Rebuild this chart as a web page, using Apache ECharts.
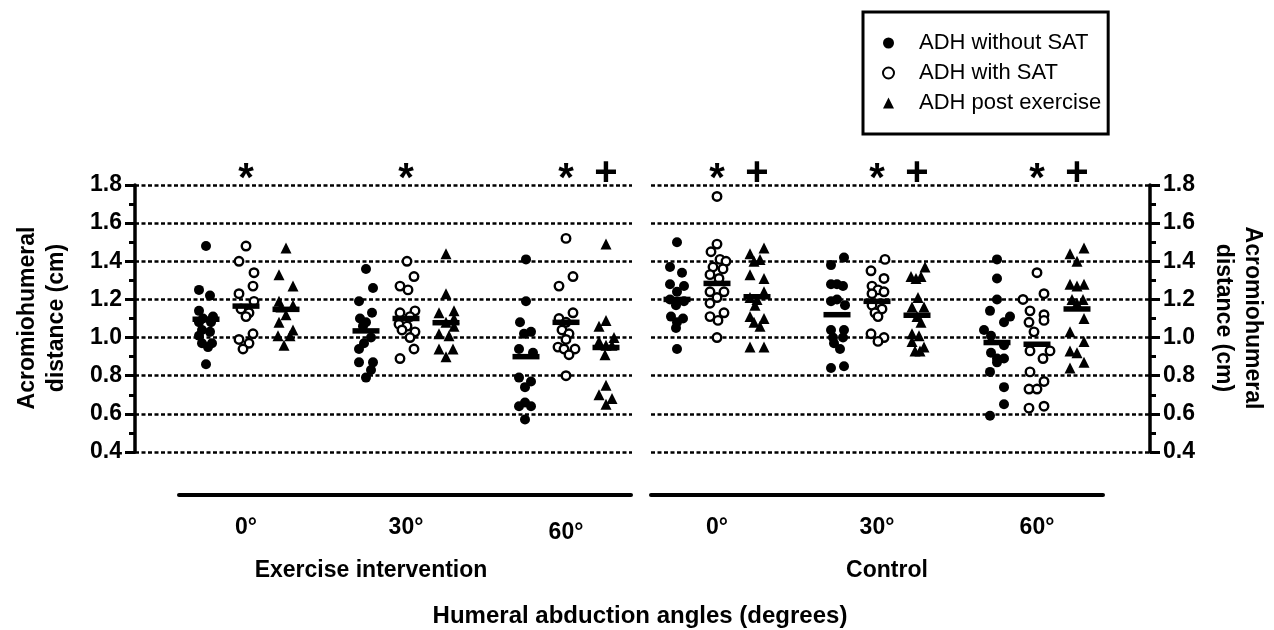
<!DOCTYPE html>
<html>
<head>
<meta charset="utf-8">
<title>Acromiohumeral distance</title>
<script src="https://cdn.jsdelivr.net/npm/echarts@6/dist/echarts.min.js"></script>
<style>
  html, body { margin: 0; padding: 0; background: #fff; }
  #chart { width: 1274px; height: 630px; }
</style>
</head>
<body>
<div id="chart"></div>
<script>
var angles = ["0°", "30°", "60°"];
var seriesNames = ["ADH without SAT", "ADH with SAT", "ADH post exercise"];
var panelNames = ["Exercise intervention", "Control"];

// each point: [horizontal jitter (px), AHD (cm)], one list per angle
var exWithout = [
  [[0,1.48],[-7,1.25],[4,1.22],[-7,1.14],[7,1.11],[-3,1.10],[-7,1.08],[5,1.08],[-4,1.04],[4,1.03],[-7,1.01],[-4,0.97],[6,0.97],[2,0.95],[0,0.86]],
  [[0,1.36],[7,1.26],[-7,1.19],[6,1.13],[-6,1.10],[0,1.08],[-3,1.06],[5,1.00],[-2,0.97],[-7,0.94],[-7,0.87],[7,0.87],[5,0.83],[0,0.79]],
  [[0,1.41],[0,1.19],[-6,1.08],[5,1.03],[-2,1.02],[-7,0.94],[7,0.92],[-7,0.79],[5,0.77],[-1,0.74],[-7,0.64],[5,0.64],[-1,0.66],[-1,0.57]]
];
var exWith = [
  [[0,1.48],[-7,1.40],[8,1.34],[7,1.27],[-7,1.23],[8,1.19],[-5,1.15],[3,1.13],[0,1.11],[7,1.02],[-7,0.99],[3,0.97],[-3,0.94]],
  [[1,1.40],[8,1.32],[-6,1.27],[2,1.25],[9,1.14],[-6,1.13],[4,1.11],[-7,1.07],[1,1.06],[9,1.03],[-4,1.04],[4,1.00],[8,0.94],[-6,0.89]],
  [[0,1.52],[7,1.32],[-7,1.27],[-7,1.10],[7,1.13],[0,1.08],[-4,1.04],[3,1.02],[0,0.99],[-8,0.95],[-2,0.94],[9,0.94],[3,0.91],[0,0.80]]
];
var exPost = [
  [[0,1.47],[-7,1.33],[7,1.27],[-7,1.19],[7,1.17],[-5,1.16],[0,1.12],[-7,1.08],[7,1.04],[-8,1.01],[4,1.01],[-2,0.96]],
  [[0,1.44],[0,1.23],[-7,1.13],[8,1.14],[8,1.10],[0,1.08],[-7,1.02],[3,1.01],[8,1.06],[-7,0.94],[7,0.94],[0,0.90]],
  [[0,1.49],[0,1.09],[-7,1.06],[-7,0.98],[8,1.00],[0,0.96],[6,0.96],[-1,0.91],[0,0.75],[-7,0.70],[6,0.68],[0,0.65]]
];
var ctWithout = [
  [[0,1.50],[-7,1.37],[5,1.34],[-7,1.28],[7,1.27],[0,1.24],[-7,1.20],[7,1.19],[-1,1.17],[-6,1.11],[6,1.10],[0,1.08],[-1,1.05],[0,0.94]],
  [[7,1.42],[-6,1.38],[-6,1.28],[6,1.27],[0,1.28],[0,1.20],[-6,1.19],[8,1.17],[-6,1.04],[7,1.04],[-4,1.00],[6,1.00],[-3,0.97],[3,0.94],[-6,0.84],[7,0.85]],
  [[0,1.41],[0,1.31],[0,1.20],[-7,1.14],[13,1.11],[7,1.08],[-13,1.04],[-6,1.01],[7,0.96],[-6,0.92],[0,0.89],[7,0.89],[0,0.87],[-7,0.82],[7,0.74],[7,0.65],[-7,0.59]]
];
var ctWith = [
  [[0,1.74],[0,1.49],[-6,1.45],[3,1.41],[9,1.40],[-4,1.37],[6,1.36],[-7,1.33],[2,1.31],[-7,1.24],[7,1.24],[0,1.21],[-7,1.18],[7,1.13],[-7,1.11],[1,1.09],[0,1.00]],
  [[8,1.41],[-6,1.35],[7,1.31],[-5,1.27],[1,1.25],[7,1.24],[-5,1.23],[-5,1.17],[5,1.15],[-2,1.13],[1,1.11],[-6,1.02],[7,1.00],[1,0.98]],
  [[0,1.34],[-14,1.20],[7,1.23],[-7,1.14],[7,1.12],[-8,1.08],[7,1.09],[-3,1.03],[-7,0.93],[13,0.93],[6,0.89],[-7,0.82],[7,0.77],[-8,0.73],[0,0.73],[-8,0.63],[7,0.64]]
];
var ctPost = [
  [[7,1.47],[-7,1.44],[3,1.41],[-3,1.40],[-7,1.33],[7,1.31],[7,1.24],[-7,1.21],[0,1.20],[-2,1.17],[-7,1.11],[7,1.10],[-3,1.08],[3,1.06],[-7,0.95],[7,0.95]],
  [[8,1.37],[-6,1.32],[4,1.32],[-1,1.31],[1,1.21],[-5,1.16],[7,1.16],[0,1.11],[4,1.08],[-5,1.02],[2,1.01],[-5,0.98],[7,0.95],[-2,0.93],[3,0.93]],
  [[7,1.47],[-7,1.44],[0,1.40],[-7,1.28],[7,1.28],[0,1.27],[-5,1.20],[6,1.20],[0,1.18],[7,1.10],[-7,1.03],[7,0.98],[-7,0.93],[0,0.92],[7,0.87],[-7,0.84]]
];

// mean bars per angle: [without SAT, with SAT, post exercise]
var exMeans = [[1.096, 1.165, 1.148], [1.035, 1.10, 1.078], [0.90, 1.08, 0.948]];
var ctMeans = [[1.20, 1.284, 1.214], [1.12, 1.19, 1.117], [0.974, 0.965, 1.15]];

// significance marks per angle: [above with SAT, above post exercise]
var exMarks = [["*", ""], ["*", ""], ["*", "+"]];
var ctMarks = [["*", "+"], ["*", "+"], ["*", "+"]];

var yMin = 0.4, yMax = 1.8, yStep = 0.2;

var FONT = '"Liberation Sans", Arial, sans-serif';
var COL_PX = 40;  // one x unit = one sub-column

function points(groups, col) {
  var out = [];
  groups.forEach(function (list, g) {
    list.forEach(function (p) {
      out.push([g * 4 + col + p[0] / COL_PX, p[1]]);
    });
  });
  return out;
}

function meanPoints(means) {
  var out = [];
  means.forEach(function (m, g) {
    m.forEach(function (v, s) { out.push([g * 4 + s, v]); });
  });
  return out;
}

function markPoints(marks) {
  var out = [];
  marks.forEach(function (m, g) {
    m.forEach(function (t, k) {
      if (t) out.push({
        value: [g * 4 + 1 + k, yMax],
        label: { formatter: t, offset: t === "*" ? [0, -5] : [0, -11] }
      });
    });
  });
  return out;
}

var styles = [
  { symbol: "circle", symbolSize: 10, itemStyle: { color: "#000", opacity: 1 } },
  { symbol: "circle", symbolSize: 8.5, itemStyle: { color: "#fff", borderColor: "#000", borderWidth: 2.4, opacity: 1 } },
  { symbol: "triangle", symbolSize: 11, itemStyle: { color: "#000", opacity: 1 } }
];

function panelSeries(idx, sets, means, marks) {
  var list = sets.map(function (groups, s) {
    return {
      name: seriesNames[s],
      type: "scatter",
      xAxisIndex: idx,
      yAxisIndex: idx,
      symbol: styles[s].symbol,
      symbolSize: styles[s].symbolSize,
      itemStyle: styles[s].itemStyle,
      z: 2 + s,
      data: points(groups, s)
    };
  });
  list.push({
    name: "Mean",
    type: "scatter",
    xAxisIndex: idx,
    yAxisIndex: idx,
    symbol: "rect",
    symbolSize: [27, 5.5],
    itemStyle: { color: "#000", opacity: 1 },
    z: 6,
    data: meanPoints(means)
  });
  list.push({
    name: "Significance",
    type: "scatter",
    xAxisIndex: idx,
    yAxisIndex: idx,
    symbolSize: 0,
    clip: false,
    silent: true,
    itemStyle: { color: "#000", opacity: 1 },
    label: {
      show: true,
      position: "inside",
      color: "#000",
      opacity: 1,
      fontSize: 40,
      fontWeight: "bold",
      fontFamily: FONT
    },
    data: markPoints(marks)
  });
  return list;
}

function yAxis(idx, pos) {
  return {
    gridIndex: idx,
    type: "value",
    position: pos,
    min: yMin,
    max: yMax,
    interval: yStep,
    axisLine: { show: true, onZero: false, lineStyle: { color: "#000", width: 3.5 } },
    axisTick: { show: true, length: 10, lineStyle: { color: "#000", width: 3 } },
    minorTick: { show: true, splitNumber: 2, length: 6, lineStyle: { color: "#000", width: 3 } },
    axisLabel: {
      margin: 13,
      color: "#000",
      fontSize: 23,
      fontWeight: "bold",
      fontFamily: FONT,
      formatter: function (v) { return v.toFixed(1); }
    },
    splitLine: { show: true, lineStyle: { color: "#000", width: 2.5, type: [4, 2.5] } }
  };
}

function xAxis(idx, min, max) {
  return {
    gridIndex: idx,
    type: "value",
    min: min,
    max: max,
    axisLine: { show: false, onZero: false },
    axisTick: { show: false },
    splitLine: { show: false },
    axisLabel: {
      customValues: [1, 5, 9],
      margin: 64,
      color: "#000",
      fontSize: 23,
      fontWeight: "bold",
      fontFamily: FONT,
      formatter: function (v) {
        var g = Math.round((v - 1) / 4);
        // the 60° label of the first panel sits a little lower
        return idx === 0 && g === 2 ? "{low|" + angles[g] + "}" : angles[g];
      },
      rich: {
        low: { padding: [5, 0, 0, 0], color: "#000", fontSize: 23, fontWeight: "bold", fontFamily: FONT }
      }
    }
  };
}

function lineAxis(idx) {
  return {
    gridIndex: idx,
    type: "value",
    min: 0,
    max: 1,
    axisLine: { show: true, onZero: false, lineStyle: { color: "#000", width: 4 } },
    axisTick: { show: false },
    axisLabel: { show: false },
    splitLine: { show: false }
  };
}

function hiddenY(idx) {
  return { gridIndex: idx, type: "value", show: false };
}

var boldText = function (x, y, text, size, rot) {
  return {
    type: "text",
    x: x,
    y: y,
    rotation: rot || 0,
    style: {
      text: text,
      align: "center",
      verticalAlign: "middle",
      lineHeight: 29,
      fill: "#000",
      font: "bold " + size + "px " + FONT
    }
  };
};

var chart = echarts.init(document.getElementById("chart"), null, { renderer: "canvas" });

var option = {
  animation: false,
  backgroundColor: "#fff",
  grid: [
    { left: 135, right: 642, top: 185, bottom: 178 },
    { left: 651, right: 124, top: 185, bottom: 178 },
    { left: 179, right: 643, top: 400, bottom: 135 },
    { left: 651, right: 171, top: 400, bottom: 135 }
  ],
  xAxis: [xAxis(0, -1.775, 10.65), xAxis(1, -0.65, 11.825), lineAxis(2), lineAxis(3)],
  yAxis: [yAxis(0, "left"), yAxis(1, "right"), hiddenY(2), hiddenY(3)],
  legend: {
    data: seriesNames,
    orient: "vertical",
    left: 863,
    top: 12,
    padding: [20, 7, 20, 19],
    itemWidth: 11,
    itemHeight: 11,
    itemGap: 8,
    borderColor: "#000",
    borderWidth: 3,
    selectedMode: false,
    textStyle: { color: "#000", fontSize: 22, fontFamily: FONT, padding: [0, 0, 0, 20] }
  },
  graphic: [
    boldText(42, 318, "Acromiohumeral\ndistance (cm)", 23, Math.PI / 2),
    boldText(1238, 318, "Acromiohumeral\ndistance (cm)", 23, -Math.PI / 2),
    boldText(371, 571, panelNames[0], 23),
    boldText(887, 571, panelNames[1], 23),
    boldText(640, 616, "Humeral abduction angles (degrees)", 24)
  ],
  series: panelSeries(0, [exWithout, exWith, exPost], exMeans, exMarks)
    .concat(panelSeries(1, [ctWithout, ctWith, ctPost], ctMeans, ctMarks))
};

chart.setOption(option);
</script>
</body>
</html>
